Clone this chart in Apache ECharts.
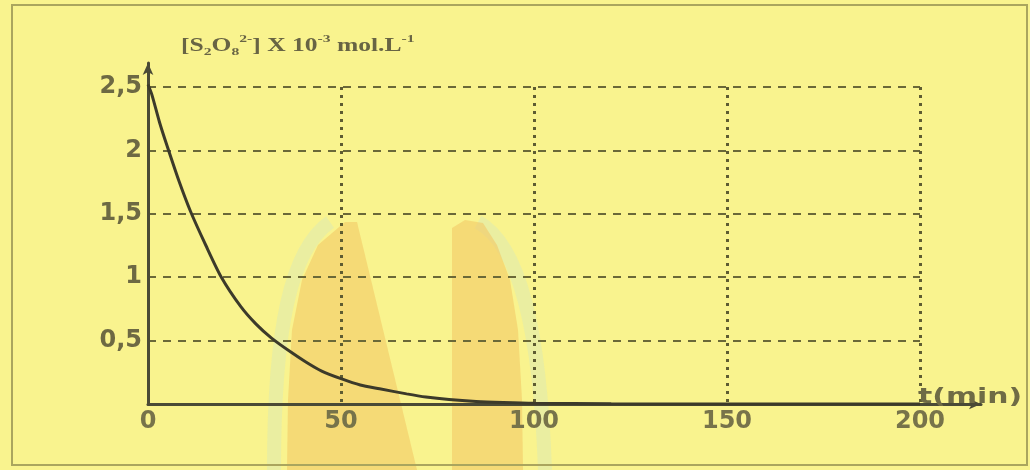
<!DOCTYPE html>
<html>
<head>
<meta charset="utf-8">
<script src="https://cdn.jsdelivr.net/npm/echarts@6/dist/echarts.min.js"></script>
<style>html,body{margin:0;padding:0;background:#f9f38e;}#c{width:1030px;height:470px;}</style>
</head>
<body>
<div id="c"></div>
<script>
// data
var times = [0, 1, 3, 5, 8, 11, 15, 19, 24, 28, 32, 37, 41, 45, 50, 55, 60, 67, 72, 78, 85, 92, 100, 120, 140, 160, 180, 200];
var conc  = [2.52, 2.44, 2.22, 2.03, 1.76, 1.52, 1.25, 1.0, 0.77, 0.63, 0.52, 0.41, 0.33, 0.26, 0.2, 0.15, 0.12, 0.08, 0.055, 0.035, 0.02, 0.012, 0.006, 0.002, 0, 0, 0, 0];
var xTicks = [0, 50, 100, 150, 200];
var yTicks = [0, 0.5, 1, 1.5, 2, 2.5];

var pts = times.map(function(t, i){ return [t, conc[i]]; });
var txt = '#6f6b45';
var ser = 'Liberation Serif';
var chart = echarts.init(document.getElementById('c'));
chart.setOption({
  backgroundColor: '#f9f38e',
  animation: false,
  graphic: [
    // faint watermark behind the chart
    {type: 'polygon', z: -5, silent: true,
     shape: {points: [[287,470],[288,400],[292,330],[302,280],[318,245],[345,222],[357,222],[417,470]]},
     style: {fill: '#f2c463', opacity: 0.55}},
    {type: 'polygon', z: -5, silent: true,
     shape: {points: [[452,470],[452,228],[465,220],[483,223],[497,245],[510,280],[518,330],[522,400],[523,470]]},
     style: {fill: '#f2c463', opacity: 0.55}},
    {type: 'bezierCurve', z: -6, silent: true,
     shape: {x1: 274, y1: 470, cpx1: 274, cpy1: 330, cpx2: 290, cpy2: 250, x2: 330, y2: 222},
     style: {fill: 'none', stroke: '#d6e8b8', lineWidth: 14, opacity: 0.45}},
    {type: 'bezierCurve', z: -6, silent: true,
     shape: {x1: 478, y1: 222, cpx1: 520, cpy1: 245, cpx2: 540, cpy2: 330, x2: 545, y2: 470},
     style: {fill: 'none', stroke: '#d6e8b8', lineWidth: 14, opacity: 0.45}},
    // frame
    {type: 'rect', z: -4, silent: true, shape: {x: 12, y: 5, width: 1015, height: 460},
     style: {fill: 'none', stroke: '#aaa55e', lineWidth: 2}},
    // axis name (x)
    {type: 'text', x: 918, y: 387, scaleX: 1.42, z: 10,
     style: {text: 't(min)', font: 'bold 21px "DejaVu Sans"', fill: txt}},
    // axis name (y)
    {type: 'text', x: 181, y: 34, scaleX: 1.42, z: 10,
     style: {
       text: '{b|[S}{sub|2}{b|O}{sub|8}{sup|2-}{b|] X 10}{sup|-3}{b| mol.L}{sup|-1}',
       rich: {
         b: {fontFamily: ser, fontWeight: 'bold', fontSize: 18, fill: '#686444', lineHeight: 24, verticalAlign: 'middle'},
         sub: {fontFamily: ser, fontWeight: 'bold', fontSize: 11, fill: '#686444', lineHeight: 24, verticalAlign: 'bottom'},
         sup: {fontFamily: ser, fontWeight: 'bold', fontSize: 11, fill: '#686444', lineHeight: 24, verticalAlign: 'top'}
       }
     }}
  ],
  grid: [
    {left: 148, right: 110, top: 87, bottom: 66},
    {left: 148, right: 49, top: 63, bottom: 66}
  ],
  xAxis: [{
    gridIndex: 0, type: 'value', min: 0, max: 200, interval: 50,
    axisLine: {show: false}, axisTick: {show: false},
    axisLabel: {
      color: '#77734a', fontSize: 24, fontWeight: 'bold', fontFamily: 'DejaVu Sans', margin: 6,
      formatter: function(v){ return xTicks.indexOf(v) >= 0 ? String(v) : ''; }
    },
    splitLine: {show: true, lineStyle: {color: '#5e5c32', width: 3, type: [3, 5]}}
  }, {
    gridIndex: 1, type: 'value', min: 0, max: 215,
    axisLine: {show: true, symbol: ['none', 'arrow'], symbolSize: [8, 12], lineStyle: {color: '#4a4a36', width: 3}},
    axisTick: {show: false}, axisLabel: {show: false}, splitLine: {show: false}
  }],
  yAxis: [{
    gridIndex: 0, type: 'value', min: 0, max: 2.5, interval: 0.5,
    axisLine: {show: false}, axisTick: {show: false},
    axisLabel: {
      color: '#6d6943', fontSize: 24, fontWeight: 'bold', fontFamily: 'DejaVu Sans', margin: 6,
      formatter: function(v){ return (v === 0 || yTicks.indexOf(v) < 0) ? '' : String(v).replace('.', ','); }
    },
    splitLine: {show: true, lineStyle: {color: '#6a6838', width: 2, type: [8, 7]}}
  }, {
    gridIndex: 1, type: 'value', min: 0, max: 2.69,
    axisLine: {show: true, symbol: ['none', 'arrow'], symbolSize: [8, 12], lineStyle: {color: '#4a4a36', width: 3}},
    axisTick: {show: false}, axisLabel: {show: false}, splitLine: {show: false}
  }],
  series: [{
    type: 'line', xAxisIndex: 0, yAxisIndex: 0, data: pts, smooth: 0.25,
    showSymbol: false, clip: false,
    lineStyle: {color: '#3c3a2a', width: 3}, z: 5
  }]
});
</script>
</body>
</html>
